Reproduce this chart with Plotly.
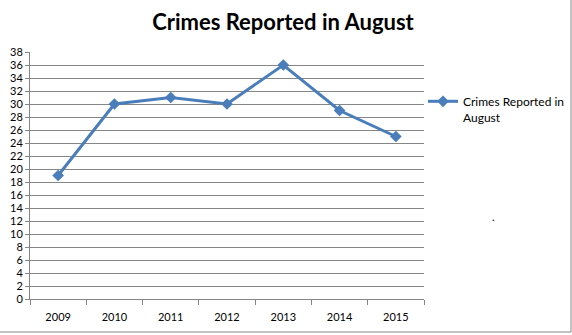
import plotly.graph_objects as go

years = ["2009", "2010", "2011", "2012", "2013", "2014", "2015"]
crimes = [19, 30, 31, 30, 36, 29, 25]
series_name = "Crimes Reported in<br>August"
title_text = "Crimes Reported in August"

W, H = 572, 335
L, R, T, B = 30, 148, 52, 36
pw, ph = W - L - R, H - T - B

def px2x(p):
    return (p - L) / pw

def px2y(p):
    return (H - B - p) / ph

fig = go.Figure()
fig.add_trace(go.Scatter(
    x=years, y=crimes, mode="lines+markers", name=series_name,
    line=dict(color="#4A7EBB", width=3),
    marker=dict(symbol="diamond", size=9, color="#4A7EBB"),
))

grid = "#868686"
fig.update_layout(
    width=W, height=H,
    margin=dict(l=L, r=R, t=T, b=B, autoexpand=False),
    paper_bgcolor="white", plot_bgcolor="white",
    title=dict(text="<b>" + title_text + "</b>", x=(283) / W, xanchor="center",
               y=1 - 22 / H, yanchor="middle",
               font=dict(family="Lato", size=22, color="black")),
    font=dict(family="Lato", size=11, color="black"),
    showlegend=True,
    legend=dict(x=px2x(423), xanchor="left", y=px2y(87), yanchor="top",
                valign="top", font=dict(family="Lato", size=12, color="black"),
                bgcolor="rgba(0,0,0,0)", itemwidth=30),
    xaxis=dict(type="category", range=[-0.5, 6.5], showgrid=False,
               showline=True, linecolor=grid, linewidth=1,
               ticks="outside", tickson="boundaries", ticklen=5, tickcolor=grid,
               ticklabelstandoff=8,
               tickfont=dict(family="Lato", size=11), fixedrange=True,
               automargin=False),
    yaxis=dict(range=[0, 38], dtick=2, tick0=0, showgrid=True, gridcolor=grid,
               gridwidth=1, showline=True, linecolor=grid, linewidth=1,
               ticks="outside", ticklen=4, tickcolor=grid, zeroline=False,
               tickfont=dict(family="Lato", size=11), fixedrange=True,
               automargin=False),
)

fig.add_shape(type="line", xref="paper", yref="paper",
              x0=px2x(571), x1=px2x(571), y0=px2y(0), y1=px2y(332),
              line=dict(color="#868686", width=1))
fig.add_shape(type="line", xref="paper", yref="paper",
              x0=px2x(0), x1=px2x(571), y0=px2y(332), y1=px2y(332),
              line=dict(color="#868686", width=1))
fig.add_annotation(text=".", xref="paper", yref="paper", x=px2x(497), y=px2y(216),
                   showarrow=False, font=dict(size=11, color="black"))

fig.write_html("out.html")
